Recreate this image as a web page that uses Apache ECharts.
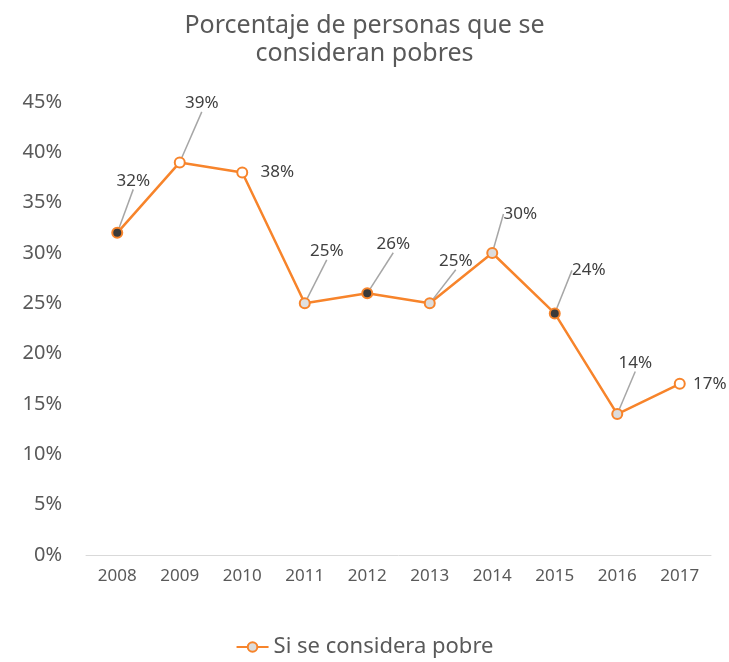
<!DOCTYPE html>
<html>
<head>
<meta charset="utf-8">
<script src="https://cdn.jsdelivr.net/npm/echarts@6/dist/echarts.min.js"></script>
<style>
  html, body { margin: 0; padding: 0; background: #fff; }
  #main { width: 729px; height: 662px; }
</style>
</head>
<body>
<div id="main"></div>
<script>
// datos
var years = ['2008', '2009', '2010', '2011', '2012', '2013', '2014', '2015', '2016', '2017'];
var pobre = [0.32, 0.39, 0.38, 0.25, 0.26, 0.25, 0.30, 0.24, 0.14, 0.17];

// desplazamiento de etiquetas (px), guía sí/no y relleno de marcadores
var labelShift = [[16, -52], [22, -59], [35, 0], [22, -52], [26, -49], [26, -42], [28, -39], [34, -43], [18, -51], [30, 0]];
var guide = [true, true, false, true, true, true, true, true, true, false];
var markFill = ['#3a3a3a', '#ffffff', '#ffffff', '#e0e0e0', '#3a3a3a', '#dcdcdc', '#dcdcdc', '#3a3a3a', '#dcdcdc', '#ffffff'];

var orange = '#f7842b';
var font = '"Noto Sans", "Open Sans", sans-serif';

var myChart = echarts.init(document.getElementById('main'));

myChart.setOption({
  textStyle: { fontFamily: font },
  title: {
    text: 'Porcentaje de personas que se\nconsideran pobres',
    left: 'center',
    top: 7,
    textStyle: { fontSize: 25, fontWeight: 'normal', color: '#595959', lineHeight: 28, fontFamily: font }
  },
  legend: {
    bottom: -1,
    left: 'center',
    itemWidth: 32,
    itemHeight: 12,
    itemGap: 4,
    textStyle: { fontSize: 22, color: '#595959', fontFamily: font },
    data: [{ name: 'Si se considera pobre', itemStyle: { color: '#dcdcdc', borderColor: orange, borderWidth: 2 } }]
  },
  grid: { left: 86, right: 18, top: 102, bottom: 107, containLabel: false },
  xAxis: {
    type: 'category',
    data: years,
    axisLine: { lineStyle: { color: '#d9d9d9', width: 1 } },
    axisTick: { show: false },
    axisLabel: { fontSize: 17, color: '#595959', margin: 13 }
  },
  yAxis: {
    type: 'value',
    min: 0,
    max: 0.45,
    interval: 0.05,
    splitLine: { show: false },
    axisLine: { show: false },
    axisTick: { show: false },
    axisLabel: {
      fontSize: 20, color: '#595959', margin: 24,
      formatter: function (v) { return Math.round(v * 100) + '%'; }
    }
  },
  series: [{
    name: 'Si se considera pobre',
    type: 'line',
    data: pobre.map(function (v, i) {
      return { value: v, itemStyle: { color: markFill[i] }, labelLine: { show: guide[i] } };
    }),
    symbol: 'circle',
    symbolSize: 10,
    lineStyle: { color: orange, width: 2.5 },
    itemStyle: { borderColor: orange, borderWidth: 2 },
    label: {
      show: true,
      position: 'inside',
      fontSize: 17,
      color: '#404040',
      formatter: function (p) { return Math.round(p.value * 100) + '%'; }
    },
    labelLine: { show: true, lineStyle: { color: '#a6a6a6', width: 1.5 } },
    labelLayout: function (p) {
      var s = labelShift[p.dataIndex];
      return { dx: s[0], dy: s[1] };
    }
  }]
});
</script>
</body>
</html>
